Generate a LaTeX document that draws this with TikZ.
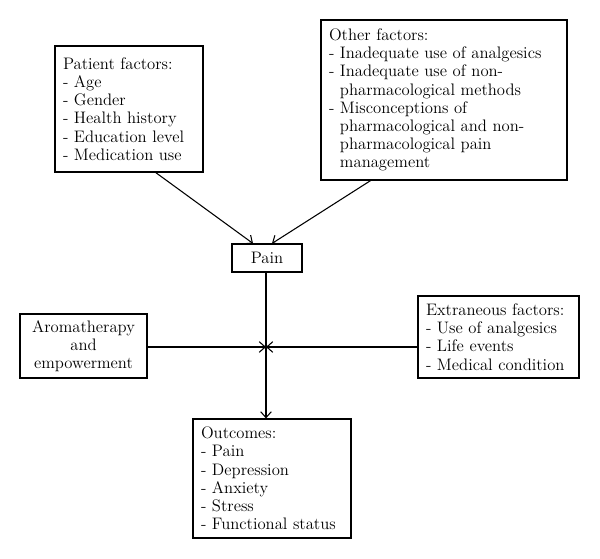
\documentclass[tikz,border=0pt]{standalone}
\usetikzlibrary{arrows.meta}
\tikzset{
  box/.style={draw, line width=0.8pt, inner xsep=6pt, inner ysep=3pt, align=left,
    font=\fontsize{12.5}{13.65}\selectfont},
}
\newcommand{\ind}{\phantom{- }}
\begin{document}
\begin{tikzpicture}[x=0.75pt, y=-0.75pt, line width=0.8pt, >={Straight Barb[length=4.5pt,width=8pt]}]
\useasboundingbox (0,0) rectangle (600,559);
\node[box, text width=99pt, minimum height=94.5pt] (patient) at (129,109) {Patient factors:\\- Age\\- Gender\\- Health history\\- Education level\\- Medication use};
\node[box, text width=172.5pt, minimum height=120pt] (other) at (444,100) {Other factors:\\- Inadequate use of analgesics\\- Inadequate use of non-\\\ind pharmacological methods\\- Misconceptions of\\\ind pharmacological and non-\\\ind pharmacological pain\\\ind management};
\node[box, align=center, minimum width=52.5pt, minimum height=21pt, inner xsep=2pt] (pain) at (267,258) {Pain};
\node[box, align=center, text width=83.25pt, minimum height=48pt] (arom) at (83.5,346) {Aromatherapy\\and\\empowerment};
\node[box, text width=108.75pt, minimum height=61.5pt] (extr) at (498.5,337) {Extraneous factors:\\- Use of analgesics\\- Life events\\- Medical condition};
\node[box, text width=106.5pt, minimum height=89.25pt] (outc) at (272,478.5) {Outcomes:\\- Pain\\- Depression\\- Anxiety\\- Stress\\- Functional status};
\coordinate (cross) at (266,347);
% influences on pain
\draw[->] ([xshift=20pt]patient.south) -- ([xshift=-10.5pt]pain.north);
\draw[->] ([xshift=-55pt]other.south) -- ([xshift=3.75pt]pain.north);
% pain to outcomes, moderated
\draw[->] (pain.south -| cross) -- (cross |- outc.north);
\draw[->] (arom.east |- cross) -- (cross);
\draw[->] (extr.west |- cross) -- (cross);
\end{tikzpicture}
\end{document}
